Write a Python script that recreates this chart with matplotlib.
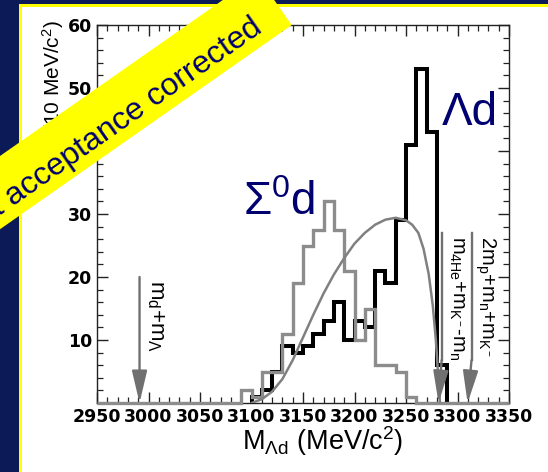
import math
import numpy as np
import matplotlib
matplotlib.use("Agg")
import matplotlib.pyplot as plt
from matplotlib.patches import Rectangle, Polygon
from matplotlib.ticker import MultipleLocator

# ---------------- data ----------------
# 10 MeV/c^2 bins covering 2950-3350 MeV/c^2
bin_edges = np.arange(2950, 3351, 10)

# Lambda-d invariant-mass spectrum (counts per bin)
lambda_d_counts = [0, 0, 0, 0, 0, 0, 0, 0, 0, 0, 0, 0, 0, 0,
                   0, 1, 2, 5, 9, 8, 9, 11, 13, 16, 10, 13, 12, 21, 19, 29,
                   41, 53, 43, 6,
                   0, 0, 0, 0, 0, 0]

# Sigma0-d spectrum (counts per bin)
sigma_d_counts = [0, 0, 0, 0, 0, 0, 0, 0, 0, 0, 0, 0, 0, 0,
                  2, 1, 5, 5, 11, 19, 25, 27.5, 32, 27.5, 21, 10, 15, 6, 6, 5, 1,
                  0, 0, 0, 0, 0, 0, 0, 0, 0]

# phase-space distribution
phase_space_mass = [3100, 3110, 3120, 3130, 3140, 3150, 3160, 3170, 3180, 3190,
                    3200, 3210, 3220, 3230, 3240, 3250, 3256, 3262, 3267, 3272,
                    3276, 3279, 3281, 3283]
phase_space_yield = [0, 0.6, 1.8, 3.8, 6.8, 10.4, 14.0, 17.4, 20.4, 23.0,
                     25.3, 27.0, 28.3, 29.1, 29.4, 29.0, 28.3, 27.0, 24.5, 20.5,
                     15.5, 10.0, 5.0, 0]

# kinematic thresholds (MeV/c^2)
thr_lambda_d = 2991.3
thr_he4 = 3281.6
thr_2pn = 3309.8

x_ticks = [2950, 3000, 3050, 3100, 3150, 3200, 3250, 3300, 3350]
y_ticks = [10, 20, 30, 40, 50, 60]

# ---------------- style ----------------
plt.rcParams['font.family'] = ['Liberation Sans', 'DejaVu Sans']
plt.rcParams['mathtext.fontset'] = 'custom'
plt.rcParams['mathtext.rm'] = 'Liberation Sans'
plt.rcParams['mathtext.it'] = 'Liberation Sans'
plt.rcParams['mathtext.bf'] = 'Liberation Sans:bold'
plt.rcParams['mathtext.default'] = 'regular'

W, H = 548, 472
NAVY = '#0c1a58'
TXT = '#000070'
GRAY = '#8c8c8c'
ARROW = '#707070'


def fpt(x, y):
    """pixel position measured from the top-left corner -> figure fraction"""
    return x / W, 1 - y / H


fig = plt.figure(figsize=(W / 100, H / 100), dpi=100)
fig.patch.set_facecolor(NAVY)

# slide panel: yellow rim and white body
fig.add_artist(Rectangle((19 / W, 0), 1 - 19 / W, 1 - 4 / H,
                         transform=fig.transFigure, facecolor='#ffff00',
                         edgecolor='none', zorder=-2))
fig.add_artist(Rectangle((22 / W, 0), 1 - 22 / W, 1 - 7 / H,
                         transform=fig.transFigure, facecolor='white',
                         edgecolor='none', zorder=-1))

ax = fig.add_axes([97 / W, 1 - 403 / H, (509 - 97) / W, (403 - 25) / H])
ax.set_facecolor('white')

# histograms
i0, i1 = 15, 34
ax.stairs(lambda_d_counts[i0:i1], bin_edges[i0:i1 + 1], baseline=0,
          color='black', lw=2.9, zorder=3, joinstyle='miter')
ax.stairs(sigma_d_counts, bin_edges, baseline=0, color=GRAY, lw=2.4,
          zorder=4, clip_on=False, joinstyle='miter')

# phase space curve
ax.plot(phase_space_mass, phase_space_yield, color='#808080', lw=1.8,
        zorder=5, solid_capstyle='round')

# threshold arrows
head = dict(arrowstyle='-|>,head_length=1.4,head_width=0.33', color=ARROW,
            lw=1.7, mutation_scale=14, shrinkA=0, shrinkB=0)
ax.annotate('', xy=(thr_lambda_d, 0), xytext=(thr_lambda_d, 20),
            arrowprops=head, zorder=6)
ax.text(3002.5, 19.6, r'm$_d$+m$_Λ$', rotation=-90, rotation_mode='anchor',
        ha='left', va='baseline', fontsize=16, color='black', zorder=7)

for tip, line_x, txt_x, label in [
        (thr_he4, 3284.6, 3294.5, r'm$_{4He}$+m$_{K^-}$-m$_n$'),
        (thr_2pn, 3313.6, 3322.8, r'2m$_p$+m$_n$+m$_{K^-}$')]:
    ax.plot([line_x, line_x], [27.0, 6.8], color=ARROW, lw=1.7, zorder=6,
            clip_on=False)
    ax.annotate('', xy=(tip, 0), xytext=(line_x, 6.8), arrowprops=head,
                zorder=6)
    ax.text(txt_x, 26.5, label, rotation=-90, rotation_mode='anchor',
            ha='left', va='baseline', fontsize=14.5, color='black', zorder=7)

# channel labels
ax.text(3284.6, 44.1, 'Λd', fontsize=33, color=TXT, zorder=7)
ax.text(3091.7, 29.8, r'Σ$^0$d', fontsize=33, color=TXT, zorder=7)

# axes
ax.set_xlim(2950, 3350)
ax.set_ylim(0, 60)
ax.set_xticks(x_ticks)
ax.set_xticklabels([str(v) for v in x_ticks])
ax.set_yticks([0] + y_ticks)
ax.set_yticklabels([''] + [str(v) for v in y_ticks])
ax.xaxis.set_minor_locator(MultipleLocator(10))
ax.yaxis.set_minor_locator(MultipleLocator(2))
ax.tick_params(which='both', direction='in', top=True, right=True,
               color='#222222', labelcolor='black')
ax.tick_params(which='major', length=8, width=1.0, pad=3.6)
ax.tick_params(which='minor', length=4.5, width=0.9)
for lab in ax.get_xticklabels() + ax.get_yticklabels():
    lab.set_fontfamily('DejaVu Sans')
    lab.set_fontweight('heavy')
    lab.set_fontsize(12.5)
for s in ax.spines.values():
    s.set_linewidth(1.0)
    s.set_color('#222222')

# axis titles
fig.text(*fpt(323, 450), r'M$_{Λd}$ (MeV/c$^2$)', ha='center',
         va='baseline', fontsize=19.5, color='black')
fig.text(*fpt(60, 20), r'Yield/(10 MeV/c$^2$)', rotation=90,
         rotation_mode='anchor', ha='right', va='baseline', fontsize=15,
         color='black')

# diagonal banner
th = math.radians(35)
u = np.array([math.cos(th), -math.sin(th)])
n = np.array([-math.sin(th), -math.cos(th)])
P0 = np.array([291.7, 25.0])
wid, length = 60, 700
corners = [P0, P0 + wid * n, P0 + wid * n - length * u, P0 - length * u]
fig.add_artist(Polygon([fpt(*c) for c in corners], closed=True,
                       transform=fig.transFigure, facecolor='#ffff00',
                       edgecolor='none', zorder=10))
A = P0 - 26 * u + 11 * n
fig.text(*fpt(*A), 'Not acceptance corrected', rotation=35,
         rotation_mode='anchor', ha='right', va='baseline', fontsize=23,
         color=TXT, zorder=11)

fig.savefig('out.png', dpi=100, facecolor=fig.get_facecolor())
